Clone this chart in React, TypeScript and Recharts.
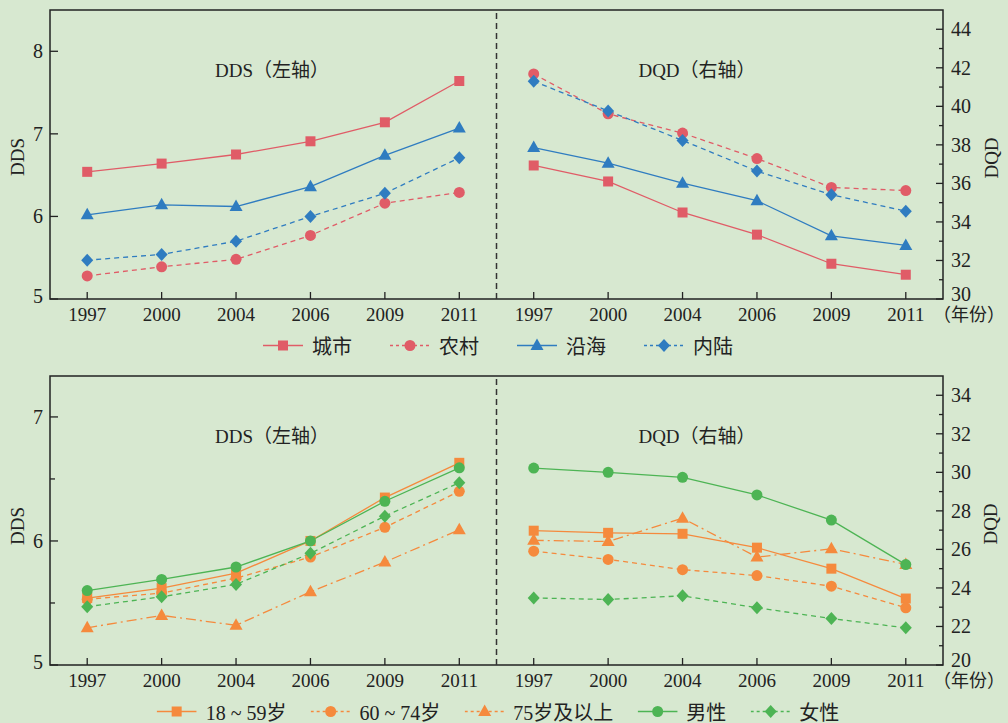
import React from "react";
import { LineChart, Line, XAxis, YAxis, ReferenceLine, ReferenceArea } from "recharts";

const years = ["1997", "2000", "2004", "2006", "2009", "2011"];
const xLabels = [...years, ...years];

// top panel
const ddsUrban = [6.54, 6.64, 6.75, 6.91, 7.14, 7.64];
const ddsRural = [5.28, 5.39, 5.48, 5.77, 6.16, 6.29];
const ddsCoastal = [6.02, 6.14, 6.12, 6.36, 6.74, 7.07];
const ddsInland = [5.47, 5.54, 5.7, 6.0, 6.28, 6.71];
const dqdUrban = [36.93, 36.1, 34.49, 33.34, 31.83, 31.26];
const dqdRural = [41.68, 39.61, 38.61, 37.29, 35.79, 35.63];
const dqdCoastal = [37.86, 37.05, 36.01, 35.1, 33.28, 32.78];
const dqdInland = [41.3, 39.76, 38.23, 36.64, 35.41, 34.56];

// bottom panel
const ddsAge18 = [5.54, 5.62, 5.74, 6.0, 6.35, 6.63];
const ddsAge60 = [5.53, 5.58, 5.7, 5.87, 6.11, 6.4];
const ddsAge75 = [5.3, 5.4, 5.32, 5.59, 5.83, 6.09];
const ddsMale = [5.6, 5.69, 5.79, 6.0, 6.32, 6.59];
const ddsFemale = [5.47, 5.55, 5.65, 5.9, 6.2, 6.47];
const dqdAge18 = [26.97, 26.86, 26.81, 26.09, 25.0, 23.45];
const dqdAge60 = [25.91, 25.48, 24.95, 24.64, 24.09, 22.97];
const dqdAge75 = [26.47, 26.41, 27.62, 25.6, 26.03, 25.22];
const dqdMale = [30.22, 30.0, 29.74, 28.83, 27.52, 25.21];
const dqdFemale = [23.48, 23.4, 23.59, 22.97, 22.41, 21.93];

const topLeftTicks = [5, 6, 7, 8];
const topRightTicks = [30, 31, 32, 33, 34, 35, 36, 37, 38, 39, 40, 41, 42, 43, 44];
const botLeftTicks = [5, 5.5, 6, 6.5, 7];
const botRightTicks = [20, 21, 22, 23, 24, 25, 26, 27, 28, 29, 30, 31, 32, 33, 34];

const RED = "#e05c67";
const BLUE = "#2f7cc0";
const ORANGE = "#f58a3d";
const GREEN = "#4db454";
const INK = "#222";
const FONT = '"Liberation Serif", "Noto Sans CJK SC", serif';

type Series = { key: string; name: string; dds: number[]; dqd: number[]; color: string; dash?: string; shape: string };

const topSeries: Series[] = [
  { key: "urban", name: "城市", dds: ddsUrban, dqd: dqdUrban, color: RED, shape: "square" },
  { key: "rural", name: "农村", dds: ddsRural, dqd: dqdRural, color: RED, dash: "5 4", shape: "circle" },
  { key: "coastal", name: "沿海", dds: ddsCoastal, dqd: dqdCoastal, color: BLUE, shape: "triangle" },
  { key: "inland", name: "内陆", dds: ddsInland, dqd: dqdInland, color: BLUE, dash: "5 4", shape: "diamond" },
];

const bottomSeries: Series[] = [
  { key: "a18", name: "18 ~ 59岁", dds: ddsAge18, dqd: dqdAge18, color: ORANGE, shape: "square" },
  { key: "a60", name: "60 ~ 74岁", dds: ddsAge60, dqd: dqdAge60, color: ORANGE, dash: "5 4", shape: "circle" },
  { key: "a75", name: "75岁及以上", dds: ddsAge75, dqd: dqdAge75, color: ORANGE, dash: "10 4 2 4", shape: "triangle" },
  { key: "male", name: "男性", dds: ddsMale, dqd: dqdMale, color: GREEN, shape: "circle" },
  { key: "female", name: "女性", dds: ddsFemale, dqd: dqdFemale, color: GREEN, dash: "5 4", shape: "diamond" },
];

function buildRows(series: Series[]) {
  return xLabels.map((_, i) => {
    const row: any = { i };
    series.forEach((s) => {
      row["dds_" + s.key] = i < 6 ? s.dds[i] : null;
      row["dqd_" + s.key] = i >= 6 ? s.dqd[i - 6] : null;
    });
    return row;
  });
}

function Marker({ cx, cy, shape, color }: any) {
  if (cx == null || cy == null) return null;
  if (shape === "square") return <rect x={cx - 5} y={cy - 5} width={10} height={10} fill={color} />;
  if (shape === "circle") return <circle cx={cx} cy={cy} r={5.5} fill={color} />;
  if (shape === "triangle")
    return <polygon points={`${cx},${cy - 7} ${cx - 6.5},${cy + 4.5} ${cx + 6.5},${cy + 4.5}`} fill={color} />;
  return <polygon points={`${cx},${cy - 6.5} ${cx + 6},${cy} ${cx},${cy + 6.5} ${cx - 6},${cy}`} fill={color} />;
}

function XTick({ x, y, payload }: any) {
  return (
    <g>
      <line x1={x} y1={y} x2={x} y2={y - 7} stroke={INK} strokeWidth={1.3} />
      <text x={x} y={y + 15} textAnchor="middle" dominantBaseline="central" fontSize={19} fill={INK} fontFamily={FONT}>
        {xLabels[payload.value]}
      </text>
    </g>
  );
}

function LeftTick({ x, y, payload, min }: any) {
  const major = Number.isInteger(payload.value);
  return (
    <g>
      <line x1={x} y1={y} x2={x + (major ? 8 : 5)} y2={y} stroke={INK} strokeWidth={1.3} />
      {major && (
        <text x={x - 7} y={y - (payload.value === min ? 3 : 0)} textAnchor="end" dominantBaseline="central" fontSize={20} fill={INK} fontFamily={FONT}>
          {payload.value}
        </text>
      )}
    </g>
  );
}

function RightTick({ x, y, payload, min }: any) {
  const major = payload.value % 2 === 0;
  return (
    <g>
      <line x1={x} y1={y} x2={x - (major ? 7 : 4)} y2={y} stroke={INK} strokeWidth={1.3} />
      {major && (
        <text x={x + 8} y={y - (payload.value === min ? 5 : 0)} textAnchor="start" dominantBaseline="central" fontSize={20} fill={INK} fontFamily={FONT}>
          {payload.value}
        </text>
      )}
    </g>
  );
}

function Panel({ series, height, top, bottom, leftDomain, rightDomain, leftTicks, rightTicks }: any) {
  const rows = buildRows(series);
  return (
    <LineChart width={1008} height={height} data={rows} margin={{ top, right: 0, bottom, left: 0 }}>
      <XAxis
        type="number"
        dataKey="i"
        domain={[-0.5, 11.5]}
        ticks={xLabels.map((_, i) => i)}
        interval={0}
        axisLine={false}
        tickLine={false}
        tickSize={0}
        tickMargin={0}
        height={30}
        tick={(p: any) => <XTick {...p} />}
      />
      <YAxis
        yAxisId="left"
        domain={leftDomain}
        ticks={leftTicks}
        interval={0}
        width={50}
        axisLine={false}
        tickLine={false}
        tickSize={0}
        tickMargin={0}
        tick={(p: any) => <LeftTick {...p} min={leftDomain[0]} />}
      />
      <YAxis
        yAxisId="right"
        orientation="right"
        domain={rightDomain}
        ticks={rightTicks}
        interval={0}
        width={65}
        axisLine={false}
        tickLine={false}
        tickSize={0}
        tickMargin={0}
        tick={(p: any) => <RightTick {...p} min={rightDomain[0]} />}
      />
      <ReferenceArea
        yAxisId="left"
        x1={-0.5}
        x2={11.5}
        y1={leftDomain[0]}
        y2={leftDomain[1]}
        fill="none"
        stroke={INK}
        strokeWidth={1.5}
        fillOpacity={0}
      />
      <ReferenceLine yAxisId="left" x={5.5} stroke="#333" strokeWidth={1.5} strokeDasharray="6 4" />
      {series.map((s: Series) => (
        <Line
          key={"dds_" + s.key}
          yAxisId="left"
          type="linear"
          dataKey={"dds_" + s.key}
          stroke={s.color}
          strokeWidth={1.3}
          strokeDasharray={s.dash}
          isAnimationActive={false}
          activeDot={false}
          dot={(p: any) => <Marker key={"dds_" + s.key + p.index} cx={p.cx} cy={p.value == null ? null : p.cy} shape={s.shape} color={s.color} />}
        />
      ))}
      {series.map((s: Series) => (
        <Line
          key={"dqd_" + s.key}
          yAxisId="right"
          type="linear"
          dataKey={"dqd_" + s.key}
          stroke={s.color}
          strokeWidth={1.3}
          strokeDasharray={s.dash}
          isAnimationActive={false}
          activeDot={false}
          dot={(p: any) => <Marker key={"dqd_" + s.key + p.index} cx={p.cx} cy={p.value == null ? null : p.cy} shape={s.shape} color={s.color} />}
        />
      ))}
    </LineChart>
  );
}

function LegendRow({ series, y, gap }: { series: Series[]; y: number; gap: number }) {
  return (
    <div
      style={{
        position: "absolute",
        left: 498,
        top: y,
        transform: "translate(-50%, -50%)",
        display: "flex",
        alignItems: "center",
        gap,
        whiteSpace: "nowrap",
      }}
    >
      {series.map((s) => (
        <div key={s.key} style={{ display: "flex", alignItems: "center" }}>
          <svg width={40} height={16}>
            <line x1={0} y1={8} x2={40} y2={8} stroke={s.color} strokeWidth={1.5} strokeDasharray={s.dash ? "3 3" : undefined} />
            <Marker cx={20} cy={8} shape={s.shape} color={s.color} />
          </svg>
          <span style={{ marginLeft: 9, fontSize: 20, color: INK }}>{s.name}</span>
        </div>
      ))}
    </div>
  );
}

function Txt({ x, y, children, rotate, size = 19 }: any) {
  return (
    <div
      style={{
        position: "absolute",
        left: x,
        top: y,
        transform: `translate(-50%, -50%)${rotate ? " rotate(-90deg)" : ""}`,
        whiteSpace: "nowrap",
        fontSize: size,
        color: INK,
        textSpacingTrim: "space-all",
      } as any}
    >
      {children}
    </div>
  );
}

export default function App() {
  return (
    <div
      style={{
        position: "absolute",
        left: 0,
        top: 0,
        width: 1008,
        height: 723,
        background: "#d7e8d0",
        overflow: "hidden",
        fontFamily: FONT,
      }}
    >
      <div style={{ position: "absolute", left: 0, top: 0 }}>
        <Panel
          series={topSeries}
          height={360}
          top={10}
          bottom={31}
          leftDomain={[5, 8.5]}
          rightDomain={[30, 45]}
          leftTicks={topLeftTicks}
          rightTicks={topRightTicks}
        />
      </div>
      <div style={{ position: "absolute", left: 0, top: 360 }}>
        <Panel
          series={bottomSeries}
          height={363}
          top={16}
          bottom={28}
          leftDomain={[5, 7.33]}
          rightDomain={[20, 35]}
          leftTicks={botLeftTicks}
          rightTicks={botRightTicks}
        />
      </div>
      <Txt x={272} y={68}>DDS（左轴）</Txt>
      <Txt x={697} y={68}>DQD（右轴）</Txt>
      <Txt x={272} y={434}>DDS（左轴）</Txt>
      <Txt x={697} y={434}>DQD（右轴）</Txt>
      <Txt x={18} y={157} rotate>DDS</Txt>
      <Txt x={992} y={158} rotate>DQD</Txt>
      <Txt x={18} y={526} rotate>DDS</Txt>
      <Txt x={991} y={524} rotate>DQD</Txt>
      <Txt x={969} y={313} size={18}>（年份）</Txt>
      <Txt x={969} y={679} size={18}>（年份）</Txt>
      <LegendRow series={topSeries} y={345} gap={38} />
      <LegendRow series={bottomSeries} y={711} gap={24} />
    </div>
  );
}
